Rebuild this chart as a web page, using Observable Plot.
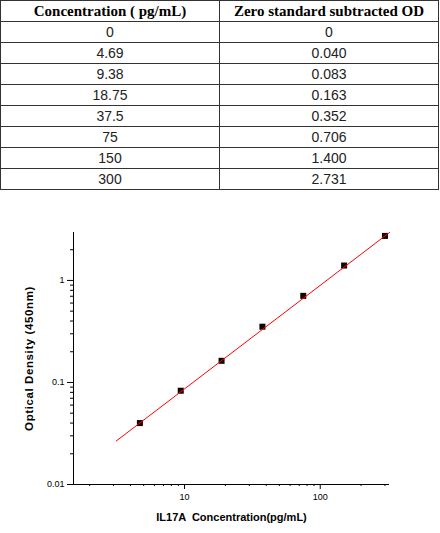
<!DOCTYPE html>
<html>
<head>
<meta charset="utf-8">
<script src="https://cdn.jsdelivr.net/npm/d3@7"></script>
<script src="https://cdn.jsdelivr.net/npm/@observablehq/plot@0.6"></script>
<style>
  html, body { margin: 0; padding: 0; background: #fff; }
  table { border-collapse: collapse; width: 439px; table-layout: fixed; }
  td, th { border: 1px solid #333; height: 20px; padding: 0; text-align: center; }
  th { font: bold 15px "Liberation Serif", serif; color: #000; }
  td { font: 14px "Liberation Sans", sans-serif; color: #222; }
  #chart svg { display: block; }
</style>
</head>
<body>
<div id="tbl"></div>
<div id="chart"></div>
<script>
const headers = ["Concentration ( pg/mL)", "Zero standard subtracted OD"];
const concLabels = ["0", "4.69", "9.38", "18.75", "37.5", "75", "150", "300"];
const odLabels = ["0", "0.040", "0.083", "0.163", "0.352", "0.706", "1.400", "2.731"];

// fitted standard curve (endpoints)
const fitConc = [3.14, 324];
const fitOD = [0.0267, 2.95];

const xMajor = [10, 100];
const xMinor = [2, 3, 4, 5, 6, 7, 8, 9, 20, 30, 40, 50, 60, 70, 80, 90, 200, 300];
const yMajor = [0.01, 0.1, 1];
const yMinor = [0.02, 0.03, 0.04, 0.05, 0.06, 0.07, 0.08, 0.09, 0.2, 0.3, 0.4, 0.5, 0.6, 0.7, 0.8, 0.9, 2];

const xLabel = "IL17A  Concentration(pg/mL)";
const yLabel = "Optical Density (450nm)";

// table
const table = document.createElement("table");
const hr = table.insertRow();
headers.forEach(h => { const th = document.createElement("th"); th.textContent = h; hr.appendChild(th); });
concLabels.forEach((c, i) => {
  const r = table.insertRow();
  r.insertCell().textContent = c;
  r.insertCell().textContent = odLabels[i];
});
document.getElementById("tbl").appendChild(table);

// data for plot (non-zero standards)
const points = concLabels.map((c, i) => ({conc: +c, od: +odLabels[i]})).filter(d => d.conc > 0);
const fit = fitConc.map((c, i) => ({conc: c, od: fitOD[i]}));

const font = "Liberation Sans, Arial, sans-serif";
const chart = Plot.plot({
  width: 440,
  height: 343,
  marginTop: 42,
  marginBottom: 49,
  marginLeft: 73,
  marginRight: 51,
  style: {fontFamily: font, fontSize: "9px", color: "#000", background: "#fff"},
  x: {type: "log", domain: [1.52, 324]},
  y: {type: "log", domain: [0.01, 2.95]},
  marks: [
    Plot.axisX({ticks: xMinor, tickSize: 2, tickFormat: () => "", label: null}),
    Plot.axisX({ticks: xMajor, tickSize: 5, tickPadding: 4, tickFormat: d => String(d), label: xLabel,
      labelAnchor: "center", labelArrow: "none", labelOffset: 36,
      fontSize: 9}),
    Plot.axisY({ticks: yMinor, tickSize: 3, tickFormat: () => "", label: null}),
    Plot.axisY({ticks: yMajor, tickSize: 6, tickPadding: 3, tickFormat: d => String(d), label: yLabel,
      labelAnchor: "center", labelArrow: "none", labelOffset: 49}),
    Plot.ruleX([1.52], {y1: 0.01, y2: 2.95, stroke: "#000"}),
    Plot.ruleY([0.01], {x1: 1.52, x2: 324, stroke: "#000"}),
    Plot.dot(points, {x: "conc", y: "od", symbol: "square", r: 3.4, fill: "#140404", stroke: "none"}),
    Plot.line(fit, {x: "conc", y: "od", stroke: "#ff0000", strokeWidth: 1})
  ]
});
// make axis titles bold and larger
chart.querySelectorAll("g[aria-label='x-axis label'] text, g[aria-label='y-axis label'] text").forEach(t => {
  t.setAttribute("font-weight", "bold");
  t.setAttribute("font-size", "11px");
});
chart.querySelectorAll("g[aria-label='y-axis label'] text").forEach(t => {
  t.setAttribute("font-size", "11.5px");
  t.setAttribute("letter-spacing", "0.6px");
});
document.getElementById("chart").appendChild(chart);
</script>
</body>
</html>
